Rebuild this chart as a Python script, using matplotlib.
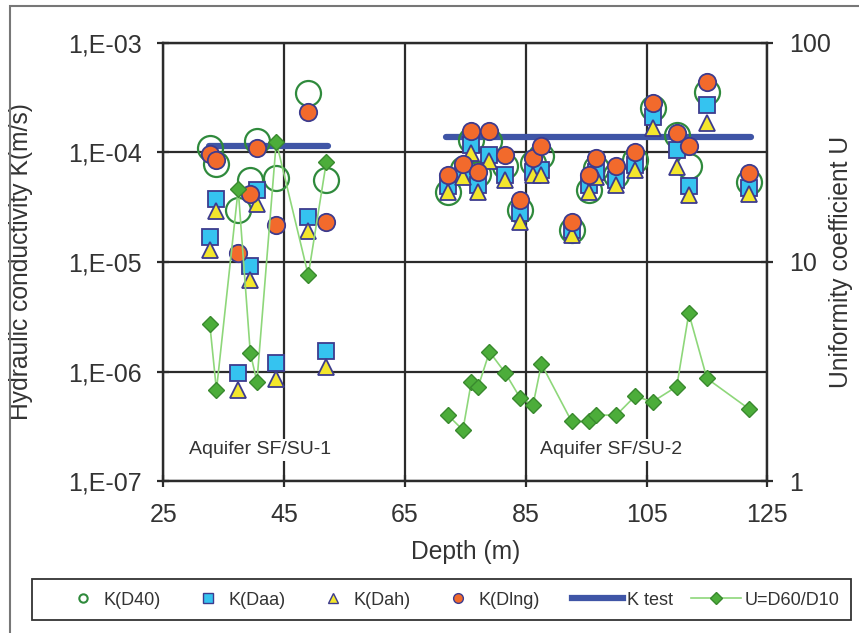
import matplotlib
matplotlib.use("Agg")
import matplotlib.pyplot as plt
from matplotlib.lines import Line2D
from matplotlib.patches import Rectangle
from matplotlib.ticker import FixedLocator, FixedFormatter, NullLocator

plt.rcParams['font.family'] = ['Liberation Sans', 'DejaVu Sans']

# ---- aquifer SF/SU-1 samples ----
depth_su1 = [32.7, 33.8, 37.4, 39.4, 40.5, 43.7, 49.0, 52.0]
k_d40_su1 = [1.11e-4, 7.9e-5, 3.0e-5, 5.6e-5, 1.26e-4, 5.9e-5, 3.5e-4, 5.6e-5]
k_daa_su1 = [1.7e-5, 3.8e-5, 9.75e-7, 9.2e-6, 4.5e-5, 1.2e-6, 2.6e-5, 1.55e-6]
k_dah_su1 = [1.29e-5, 2.9e-5, 6.8e-7, 6.9e-6, 3.4e-5, 8.5e-7, 1.9e-5, 1.1e-6]
k_dlng_su1 = [9.7e-5, 8.5e-5, 1.22e-5, 4.2e-5, 1.11e-4, 2.2e-5, 2.36e-4, 2.3e-5]
u_su1 = [5.2, 2.6, 21.5, 3.85, 2.84, 35.4, 8.7, 28.7]
ktest_su1_depth = [32.5, 52.2]
ktest_su1 = [1.15e-4, 1.15e-4]

# ---- aquifer SF/SU-2 samples ----
depth_su2 = [72.1, 74.6, 76.0, 77.1, 79.0, 81.6, 84.1, 86.2, 87.6, 92.6,
             95.5, 96.6, 100.0, 103.1, 106.0, 110.0, 112.0, 115.0, 122.0]
k_d40_su2 = [4.4e-5, 7.0e-5, 1.3e-4, 6.3e-5, 1.26e-4, 7.5e-5, 3.0e-5, 8.0e-5, 9.2e-5, 1.96e-5,
             4.5e-5, 7.2e-5, 6.2e-5, 8.6e-5, 2.53e-4, 1.45e-4, 7.5e-5, 3.59e-4, 5.4e-5]
k_daa_su2 = [4.9e-5, 6.4e-5, 1.17e-4, 5.0e-5, 9.5e-5, 6.2e-5, 2.8e-5, 6.7e-5, 6.9e-5, 1.96e-5,
             5.0e-5, 6.7e-5, 5.6e-5, 7.7e-5, 2.12e-4, 1.05e-4, 4.9e-5, 2.72e-4, 4.7e-5]
k_dah_su2 = [4.4e-5, 6.0e-5, 9.8e-5, 4.4e-5, 8.3e-5, 5.6e-5, 2.34e-5, 6.2e-5, 6.2e-5, 1.77e-5,
             4.4e-5, 6.0e-5, 5.0e-5, 6.9e-5, 1.66e-4, 7.4e-5, 4.1e-5, 1.85e-4, 4.2e-5]
k_dlng_su2 = [6.2e-5, 7.9e-5, 1.58e-4, 6.7e-5, 1.58e-4, 9.5e-5, 3.7e-5, 8.9e-5, 1.14e-4, 2.34e-5,
              6.2e-5, 9.0e-5, 7.5e-5, 1.02e-4, 2.85e-4, 1.5e-4, 1.15e-4, 4.44e-4, 6.45e-5]
u_su2 = [2.0, 1.71, 2.84, 2.68, 3.89, 3.12, 2.39, 2.22, 3.42, 1.87,
         1.87, 2.0, 2.0, 2.44, 2.30, 2.70, 5.83, 2.94, 2.13]
ktest_su2_depth = [71.8, 122.3]
ktest_su2 = [1.39e-4, 1.39e-4]

x_ticks = [25, 45, 65, 85, 105, 125]
k_ticks = [1e-7, 1e-6, 1e-5, 1e-4, 1e-3]
k_tick_labels = ['1,E-07', '1,E-06', '1,E-05', '1,E-04', '1,E-03']
u_ticks = [1, 10, 100]
u_tick_labels = ['1', '10', '100']

# colours
c_d40 = '#2f8a3c'
c_daa = '#35c3f0'
c_dah = '#f3e62c'
c_dlng = '#f26a2c'
c_edge = '#3d3b8e'
c_ktest = '#3f55a6'
c_u_line = '#8ed77a'
c_u_mark = '#4cad3a'
c_u_edge = '#39892e'
c_axis = '#2b2b2b'
c_text = '#333333'

fig = plt.figure(figsize=(8.59, 6.33), dpi=100)
ax = fig.add_axes([0.1901, 0.2401, 0.7032, 0.6920])
ax2 = ax.twinx()

ax.set_yscale('log')
ax.set_xlim(25, 125)
ax.set_ylim(1e-7, 1e-3)
ax2.set_yscale('log')
ax2.set_ylim(1, 100)

d40_style = dict(ls='none', marker='o', ms=18, mfc='none', mec=c_d40, mew=1.6)
daa_style = dict(ls='none', marker='s', ms=11, mfc=c_daa, mec=c_edge, mew=1.3)
dah_style = dict(ls='none', marker='^', ms=11.5, mfc=c_dah, mec=c_edge, mew=1.3)
dlng_style = dict(ls='none', marker='o', ms=12.5, mfc=c_dlng, mec=c_edge, mew=1.3)
ktest_style = dict(color=c_ktest, lw=4.5, solid_capstyle='round')
u_style = dict(color=c_u_line, lw=1.2, marker='D', ms=8.3, mfc=c_u_mark, mec=c_u_edge, mew=1.0)

for depth, k40, kaa, kah, klng, kd, kt in [
        (depth_su1, k_d40_su1, k_daa_su1, k_dah_su1, k_dlng_su1, ktest_su1_depth, ktest_su1),
        (depth_su2, k_d40_su2, k_daa_su2, k_dah_su2, k_dlng_su2, ktest_su2_depth, ktest_su2)]:
    ax.plot(kd, kt, zorder=3, **ktest_style)
    ax.plot(depth, k40, zorder=4, **d40_style)
    ax.plot(depth, kaa, zorder=5, **daa_style)
    ax.plot(depth, kah, zorder=6, **dah_style)
    ax.plot(depth, klng, zorder=7, **dlng_style)

ax2.plot(depth_su1, u_su1, **u_style)
ax2.plot(depth_su2, u_su2, **u_style)

# axes, ticks and grid
for a in (ax, ax2):
    for sp in a.spines.values():
        sp.set_color(c_axis)
        sp.set_linewidth(1.6)
ax.xaxis.set_major_locator(FixedLocator(x_ticks))
ax.xaxis.set_minor_locator(NullLocator())
ax.yaxis.set_major_locator(FixedLocator(k_ticks))
ax.yaxis.set_major_formatter(FixedFormatter(k_tick_labels))
ax.yaxis.set_minor_locator(NullLocator())
ax2.yaxis.set_major_locator(FixedLocator(u_ticks))
ax2.yaxis.set_major_formatter(FixedFormatter(u_tick_labels))
ax2.yaxis.set_minor_locator(NullLocator())

ax.tick_params(axis='both', direction='inout', length=9, width=1.6, color=c_axis,
               labelsize=18, labelcolor=c_text, pad=11)
ax2.tick_params(axis='y', direction='inout', length=9, width=1.6, color=c_axis,
                labelsize=18, labelcolor=c_text, pad=11)
ax.grid(True, which='major', color=c_axis, lw=1.6)
ax.set_axisbelow(True)

ax.set_xlabel('Depth (m)', fontsize=17.7, color=c_text)
ax.set_ylabel('Hydraulic conductivity K(m/s)', fontsize=17.7, color=c_text)
ax2.set_ylabel('Uniformity coefficient U', fontsize=17.7, color=c_text)
ax.xaxis.set_label_coords(0.5, -0.135)
ax.yaxis.set_label_coords(-0.215, 0.5)
ax2.yaxis.set_label_coords(1.102, 0.5)

# aquifer names
for xt, name in [(41.0, 'Aquifer SF/SU-1'), (99.2, 'Aquifer SF/SU-2')]:
    ax.text(xt, 1.92e-7, name, fontsize=14, color=c_text, ha='center', va='center',
            zorder=8, bbox=dict(facecolor='white', edgecolor='none', pad=1.5))

# legend: marker entries and line entries, one frame around both
h_marks = [Line2D([], [], ls='none', marker='o', ms=6, mfc='none', mec=c_d40, mew=1.5),
           Line2D([], [], ls='none', marker='s', ms=7, mfc=c_daa, mec=c_edge, mew=1.0),
           Line2D([], [], ls='none', marker='^', ms=7, mfc=c_dah, mec=c_edge, mew=1.0),
           Line2D([], [], ls='none', marker='o', ms=7, mfc=c_dlng, mec=c_edge, mew=1.0)]
h_lines = [Line2D([], [], color=c_ktest, lw=4.5),
           Line2D([], [], color=c_u_line, lw=1.2, marker='D', ms=6, mfc=c_u_mark,
                  mec=c_u_edge, mew=1.0)]
leg_kw = dict(loc='center left', frameon=False, fontsize=13, borderpad=0,
              borderaxespad=0, labelcolor=c_text)
leg1 = fig.legend(h_marks, ['K(D40)', 'K(Daa)', 'K(Dah)', 'K(Dlng)'], ncol=4,
                  bbox_to_anchor=(74 / 859, 0.0521), handlelength=1.0,
                  handletextpad=0.61, columnspacing=2.15, **leg_kw)
leg2 = fig.legend(h_lines, ['K test', 'U=D60/D10'], ncol=2,
                  bbox_to_anchor=(572 / 859, 0.0521), handlelength=2.8,
                  handletextpad=0.22, columnspacing=1.0, **leg_kw)

fig.patches.append(Rectangle((32 / 859, 1 - 620 / 633), 819 / 859, 41 / 633,
                             transform=fig.transFigure, fill=False,
                             edgecolor=c_text, lw=1.3))
fig.patches.append(Rectangle((10 / 859, -0.1), 1.2, 1.1 - 6 / 633,
                             transform=fig.transFigure, fill=False,
                             edgecolor='#777777', lw=1.5, clip_on=False))

fig.savefig('out.png', dpi=100, facecolor='white')
